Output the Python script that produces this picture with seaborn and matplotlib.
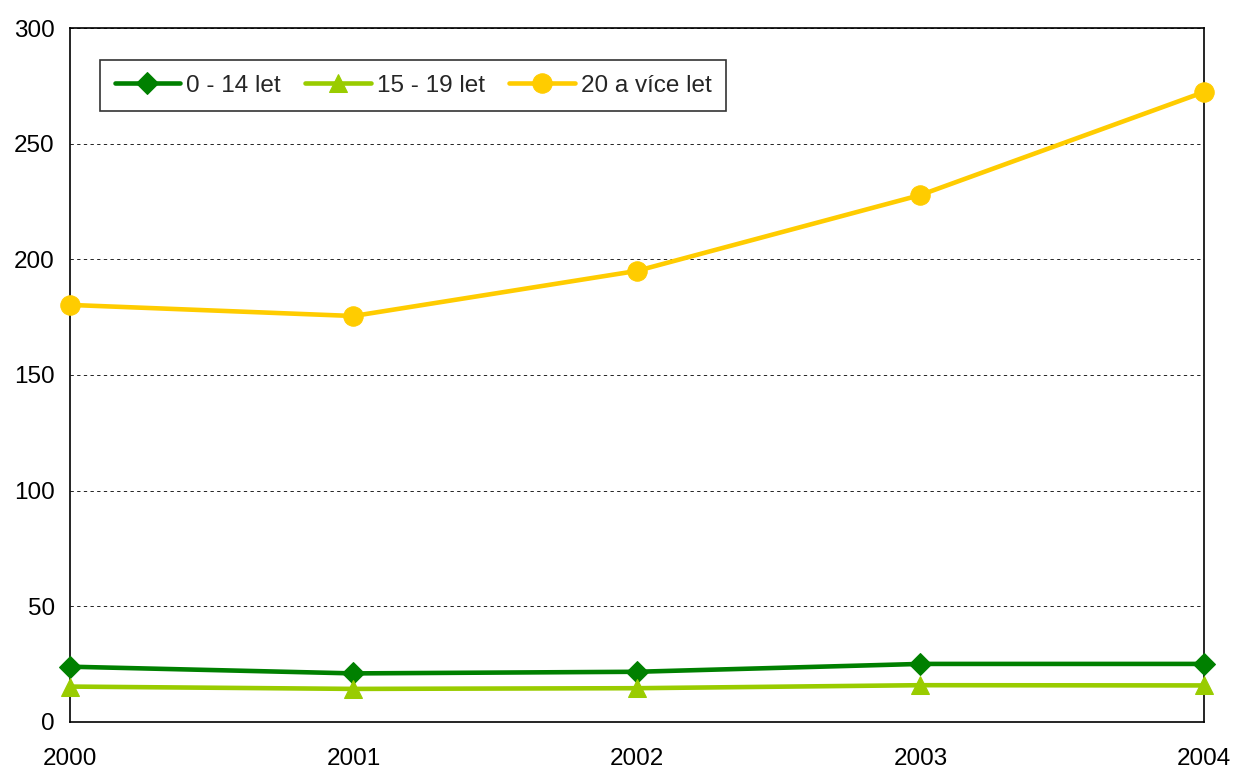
import pandas as pd
import matplotlib.pyplot as plt
import seaborn as sns

years = [2000, 2001, 2002, 2003, 2004]
age_0_14 = [23.9, 21.0, 21.7, 25.1, 25.1]
age_15_19 = [15.3, 14.3, 14.6, 15.9, 15.8]
age_20_plus = [180.3, 175.5, 195.0, 227.8, 272.3]

labels = ['0 - 14 let', '15 - 19 let', '20 a více let']
colors = ['#008000', '#99CC00', '#FFCC00']
markers = ['D', '^', 'o']
msizes = [11, 13, 14]

sns.set_style('white')
plt.rcParams['font.family'] = ['Liberation Sans', 'DejaVu Sans']

fig, ax = plt.subplots(figsize=(12.36, 7.72), dpi=100)
fig.subplots_adjust(left=0.0566, right=0.974, top=0.9637, bottom=0.0648)

for vals, lab, col, mk, ms in zip([age_0_14, age_15_19, age_20_plus], labels, colors, markers, msizes):
    df = pd.DataFrame({'rok': years, 'pocet': vals})
    sns.lineplot(data=df, x='rok', y='pocet', ax=ax, color=col, linewidth=3.3,
                 marker=mk, markersize=ms, markeredgecolor=col, label=lab,
                 clip_on=False, zorder=3)

ax.set_xlim(2000, 2004)
ax.set_ylim(0, 300)
ax.set_xticks(years)
ax.set_yticks(range(0, 301, 50))
ax.set_xlabel('')
ax.set_ylabel('')
ax.yaxis.grid(True, color='black', linestyle=(0, (4, 4)), linewidth=0.6)
ax.set_axisbelow(True)
for s in ax.spines.values():
    s.set_color('black')
    s.set_linewidth(1.2)
ax.tick_params(axis='both', labelsize=17.5, direction='out', length=7, width=1.2,
               color='black', labelcolor='black')
ax.tick_params(axis='x', pad=12)
ax.tick_params(axis='y', pad=4)

leg = ax.legend(loc='upper left', bbox_to_anchor=(0.0265, 0.954), borderaxespad=0,
                ncol=3, fontsize=17.5, frameon=True, fancybox=False, edgecolor='black',
                handlelength=2.7, handletextpad=0.25, columnspacing=1.0, borderpad=0.6)
leg.get_frame().set_linewidth(1.2)

fig.savefig('out.png', dpi=100)
